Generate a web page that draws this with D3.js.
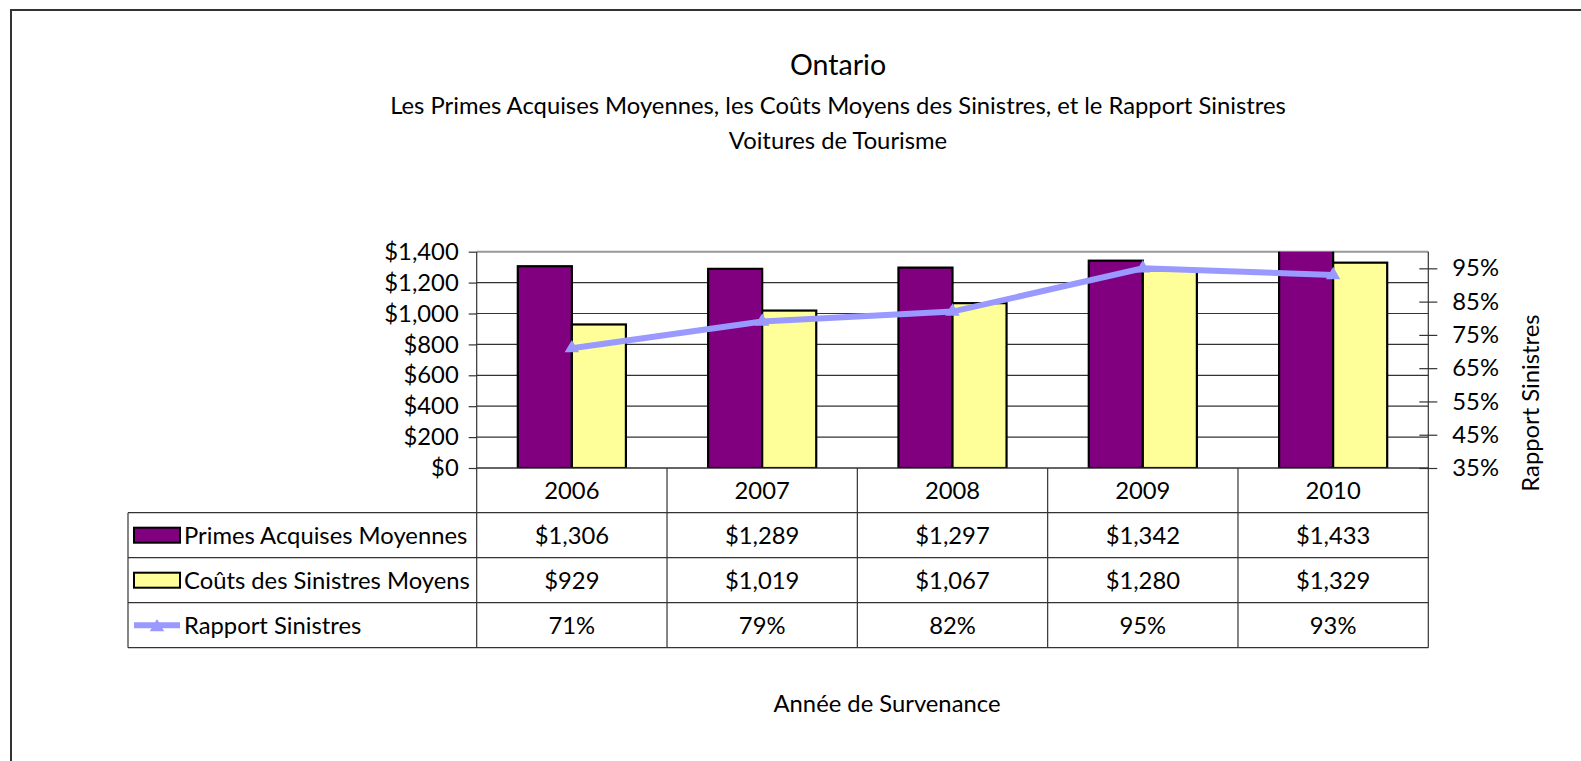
<!DOCTYPE html>
<html>
<head>
<meta charset="utf-8">
<script src="https://cdn.jsdelivr.net/npm/d3@7"></script>
<style>
  body { margin: 0; background: #fff; }
  text { font-family: Lato, "Open Sans", sans-serif; fill: #000; }
</style>
</head>
<body>
<svg id="chart" width="1581" height="761"></svg>
<script>
// data
const years = ["2006", "2007", "2008", "2009", "2010"];
const primes = [1306, 1289, 1297, 1342, 1433];
const couts = [929, 1019, 1067, 1280, 1329];
const rapport = [0.71, 0.79, 0.82, 0.95, 0.93];
const series_names = ["Primes Acquises Moyennes", "Coûts des Sinistres Moyens", "Rapport Sinistres"];
const left_ticks = [0, 200, 400, 600, 800, 1000, 1200, 1400];
const right_ticks = [0.35, 0.45, 0.55, 0.65, 0.75, 0.85, 0.95];
const title = "Ontario";
const subtitle = "Les Primes Acquises Moyennes, les Coûts Moyens des Sinistres, et le Rapport Sinistres";
const subtitle2 = "Voitures de Tourisme";
const x_title = "Année de Survenance";
const y2_title = "Rapport Sinistres";

const svg = d3.select("#chart");
const purple = "#800080", yellow = "#ffff99", lavender = "#9999ff";

// frame
svg.append("rect")
    .attr("x", 11).attr("y", 10)
    .attr("width", 1620).attr("height", 800)
    .attr("fill", "none").attr("stroke", "#333").attr("stroke-width", 2);

// work out a font size so the subtitle spans like the original
const probe = svg.append("text").style("font-size", "20px").text(subtitle);
const fs = 20 * 896 / probe.node().getComputedTextLength();
probe.remove();

const cx = 838;
svg.append("text").attr("x", cx).attr("y", 64).attr("text-anchor", "middle")
    .attr("dominant-baseline", "central").style("font-size", (fs * 1.2) + "px").text(title);
svg.append("text").attr("x", cx).attr("y", 105).attr("text-anchor", "middle")
    .attr("dominant-baseline", "central").style("font-size", fs + "px").text(subtitle);
svg.append("text").attr("x", cx).attr("y", 140).attr("text-anchor", "middle")
    .attr("dominant-baseline", "central").style("font-size", fs + "px").text(subtitle2);

// plot area
const plot = { left: 476.7, right: 1428.3, top: 251.7, bottom: 468 };
const rows = { label_left: 128, header_bottom: 512.7, row_h: 45 };

const x = d3.scaleBand().domain(years)
    .range([plot.left, plot.right])
    .paddingInner(0.432).paddingOuter(0.216);
const x_sub = d3.scaleBand().domain([0, 1]).range([0, x.bandwidth()]);
const y = d3.scaleLinear().domain([0, 1400]).range([plot.bottom, plot.top]);
const y2 = d3.scaleLinear().domain([0.35, 1.0]).range([plot.bottom, plot.top]);

// gridlines
svg.append("g").selectAll("line")
    .data(left_ticks)
    .join("line")
    .attr("x1", plot.left).attr("x2", plot.right)
    .attr("y1", d => y(d)).attr("y2", d => y(d))
    .attr("stroke", d => d === 1400 ? "#999" : "#333")
    .attr("stroke-width", d => d === 1400 ? 2 : 1.2);

// bars, clipped to the plot
svg.append("clipPath").attr("id", "plot-clip")
    .append("rect")
    .attr("x", plot.left).attr("y", plot.top)
    .attr("width", plot.right - plot.left).attr("height", plot.bottom - plot.top);

const bar_data = [];
years.forEach((yr, i) => {
    bar_data.push({ year: yr, k: 0, v: primes[i], fill: purple });
    bar_data.push({ year: yr, k: 1, v: couts[i], fill: yellow });
});
svg.append("g").attr("clip-path", "url(#plot-clip)")
    .selectAll("rect")
    .data(bar_data)
    .join("rect")
    .attr("x", d => x(d.year) + x_sub(d.k))
    .attr("width", x_sub.bandwidth())
    .attr("y", d => y(d.v))
    .attr("height", d => y(0) - y(d.v))
    .attr("fill", d => d.fill)
    .attr("stroke", "#000")
    .attr("stroke-width", 2.2);

// left axis
const left_axis = svg.append("g")
    .attr("transform", `translate(${plot.left},0)`)
    .call(d3.axisLeft(y).tickValues(left_ticks).tickSize(8).tickPadding(10)
        .tickFormat(d3.format("$,")));
left_axis.select(".domain").remove();
left_axis.selectAll("line").attr("stroke", "#333").attr("stroke-width", 1.2);
left_axis.selectAll("text").style("font-size", fs + "px").style("font-family", null);

// right axis
const right_axis = svg.append("g")
    .attr("transform", `translate(${plot.right},0)`)
    .call(d3.axisRight(y2).tickValues(right_ticks).tickSize(9).tickPadding(15)
        .tickFormat(d3.format(".0%")));
right_axis.select(".domain").remove();
right_axis.selectAll("line").attr("x1", -9).attr("stroke", "#333").attr("stroke-width", 1.2);
right_axis.selectAll("text").style("font-size", fs + "px").style("font-family", null);

svg.append("text")
    .attr("transform", `translate(1530,403) rotate(-90)`)
    .attr("text-anchor", "middle").attr("dominant-baseline", "central")
    .style("font-size", fs + "px").text(y2_title);

// line series
const line = d3.line()
    .x((d, i) => x(years[i]) + x.bandwidth() / 2)
    .y(d => y2(d));
svg.append("path")
    .datum(rapport)
    .attr("d", line)
    .attr("fill", "none")
    .attr("stroke", lavender)
    .attr("stroke-width", 6);
const tri = d3.symbol().type(d3.symbolTriangle).size(90);
svg.append("g").selectAll("path")
    .data(rapport)
    .join("path")
    .attr("transform", (d, i) => `translate(${x(years[i]) + x.bandwidth() / 2},${y2(d)})`)
    .attr("d", tri)
    .attr("fill", lavender);

// data table
const table_bottom = rows.header_bottom + 3 * rows.row_h;
const grid = svg.append("g").attr("stroke", "#333").attr("stroke-width", 1.2);
// verticals at band edges
const edges = years.map(yr => x(yr) - x.step() * x.paddingInner() / 2).concat([plot.right]);
edges[0] = plot.left;
grid.selectAll("line.v")
    .data(edges)
    .join("line").attr("class", "v")
    .attr("x1", d => d).attr("x2", d => d)
    .attr("y1", (d, i) => (i === 0 || i === edges.length - 1) ? plot.top : plot.bottom)
    .attr("y2", table_bottom);
grid.append("line")
    .attr("x1", plot.left).attr("x2", plot.right)
    .attr("y1", plot.bottom).attr("y2", plot.bottom);
grid.selectAll("line.h")
    .data([0, 1, 2, 3])
    .join("line").attr("class", "h")
    .attr("x1", rows.label_left).attr("x2", plot.right)
    .attr("y1", d => rows.header_bottom + d * rows.row_h)
    .attr("y2", d => rows.header_bottom + d * rows.row_h);
grid.append("line")
    .attr("x1", rows.label_left).attr("x2", rows.label_left)
    .attr("y1", rows.header_bottom).attr("y2", table_bottom);

// header row: years
svg.append("g").selectAll("text")
    .data(years)
    .join("text")
    .attr("x", d => x(d) + x.bandwidth() / 2)
    .attr("y", (plot.bottom + rows.header_bottom) / 2)
    .attr("text-anchor", "middle").attr("dominant-baseline", "central")
    .style("font-size", fs + "px")
    .text(d => d);

const fmt_money = d3.format("$,");
const fmt_pct = d3.format(".0%");
const table_rows = [
    primes.map(fmt_money),
    couts.map(fmt_money),
    rapport.map(fmt_pct)
];
table_rows.forEach((vals, r) => {
    const cy = rows.header_bottom + (r + 0.5) * rows.row_h;
    svg.append("g").selectAll("text")
        .data(vals)
        .join("text")
        .attr("x", (d, i) => x(years[i]) + x.bandwidth() / 2)
        .attr("y", cy)
        .attr("text-anchor", "middle").attr("dominant-baseline", "central")
        .style("font-size", fs + "px")
        .text(d => d);
    svg.append("text")
        .attr("x", 184).attr("y", cy)
        .attr("dominant-baseline", "central")
        .style("font-size", fs + "px")
        .text(series_names[r]);
    // legend keys
    if (r < 2) {
        svg.append("rect")
            .attr("x", 134).attr("y", cy - 7.5)
            .attr("width", 46).attr("height", 15)
            .attr("fill", r === 0 ? purple : yellow)
            .attr("stroke", "#000").attr("stroke-width", 2);
    } else {
        svg.append("line")
            .attr("x1", 134).attr("x2", 180)
            .attr("y1", cy).attr("y2", cy)
            .attr("stroke", lavender).attr("stroke-width", 6);
        svg.append("path")
            .attr("transform", `translate(157,${cy + 2})`)
            .attr("d", tri)
            .attr("fill", lavender);
    }
});

svg.append("text")
    .attr("x", 887).attr("y", 703)
    .attr("text-anchor", "middle").attr("dominant-baseline", "central")
    .style("font-size", fs + "px")
    .text(x_title);
</script>
</body>
</html>
